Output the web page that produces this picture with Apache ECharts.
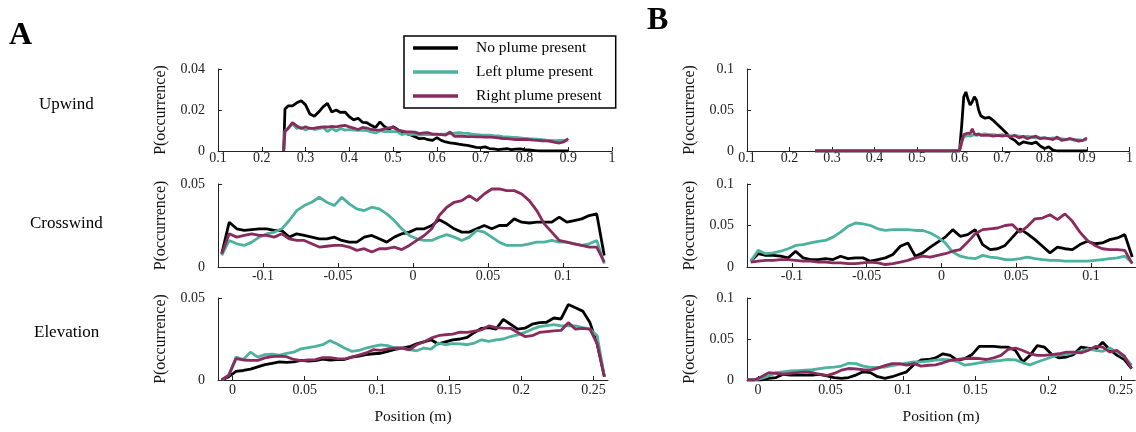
<!DOCTYPE html>
<html>
<head>
<meta charset="utf-8">
<title>Plume position occurrence</title>
<style>
  * { margin: 0; padding: 0; }
  body { background: #fff; }
  #chart { width: 1136px; height: 432px; }
</style>
</head>
<body>
<div id="chart"></div>
<script src="https://cdn.jsdelivr.net/npm/echarts@6/dist/echarts.min.js"></script>
<script>
// ---- data ----
var seriesNames = ['No plume present', 'Left plume present', 'Right plume present'];

var upTicks = [0.1, 0.2, 0.3, 0.4, 0.5, 0.6, 0.7, 0.8, 0.9, 1];
var crossTicks = [-0.1, -0.05, 0, 0.05, 0.1];
var elevTicks = [0, 0.05, 0.1, 0.15, 0.2, 0.25];

// Upwind, panel A
var upA_x = [0.25, 0.253, 0.26, 0.27, 0.28, 0.29, 0.30, 0.31, 0.32, 0.33, 0.34, 0.35, 0.36, 0.37, 0.38, 0.39,
  0.40, 0.41, 0.42, 0.43, 0.44, 0.45, 0.46, 0.47, 0.48, 0.49, 0.50, 0.51, 0.52, 0.53, 0.54, 0.55, 0.56, 0.57,
  0.58, 0.59, 0.60, 0.61, 0.62, 0.63, 0.64, 0.65, 0.66, 0.67, 0.68, 0.69, 0.70, 0.71, 0.72, 0.73, 0.74, 0.75,
  0.76, 0.77, 0.78, 0.79, 0.80, 0.81, 0.82, 0.83, 0.84, 0.85, 0.86, 0.87, 0.88, 0.89, 0.90];
var upA_none = [0, 0.0205, 0.022, 0.022, 0.0235, 0.0245, 0.0225, 0.018, 0.017, 0.019, 0.0215, 0.0232, 0.019, 0.020,
  0.0188, 0.019, 0.0167, 0.0152, 0.016, 0.014, 0.0138, 0.0125, 0.0115, 0.0142, 0.012, 0.0106, 0.0118, 0.0105,
  0.0092, 0.0085, 0.0078, 0.007, 0.006, 0.0062, 0.0055, 0.0052, 0.0065, 0.0052, 0.0044, 0.004, 0.0037, 0.0033,
  0.003, 0.0027, 0.0023, 0.0018, 0.0016, 0.002, 0.0012, 0.001, 0.0007, 0.0009, 0.0011, 0.0007, 0.0009, 0.001,
  0.0007, 0.0005, 0.0003, 0.0001, 0, 0, 0, 0, 0, 0, 0];
var upA_left = [0, 0.0098, 0.011, 0.0132, 0.011, 0.0115, 0.0102, 0.0112, 0.0105, 0.0108, 0.0115, 0.0095, 0.011,
  0.0098, 0.011, 0.0102, 0.0104, 0.0102, 0.0101, 0.0102, 0.01, 0.0093, 0.0088, 0.0099, 0.0094, 0.0096, 0.0095,
  0.0094, 0.008, 0.0086, 0.008, 0.0082, 0.0077, 0.008, 0.0081, 0.008, 0.008, 0.0082, 0.0083, 0.0085, 0.0087,
  0.0089, 0.0087, 0.0086, 0.0082, 0.008, 0.0078, 0.0077, 0.0077, 0.0075, 0.0074, 0.007, 0.0069, 0.0067, 0.0066,
  0.0064, 0.0062, 0.006, 0.0059, 0.0058, 0.0056, 0.0053, 0.0052, 0.0051, 0.0052, 0.0052, 0.0053];
var upA_right = [0, 0.0095, 0.011, 0.0138, 0.0122, 0.011, 0.0118, 0.011, 0.0112, 0.0115, 0.0118, 0.0117, 0.012,
  0.0118, 0.0122, 0.0125, 0.0118, 0.0112, 0.0105, 0.0115, 0.0112, 0.0105, 0.0103, 0.0102, 0.0108, 0.0113, 0.0115,
  0.0102, 0.0098, 0.0093, 0.0093, 0.0092, 0.0085, 0.0088, 0.0089, 0.0082, 0.0082, 0.008, 0.0077, 0.0093, 0.0072,
  0.0073, 0.0072, 0.007, 0.007, 0.0069, 0.0069, 0.0068, 0.0068, 0.0066, 0.0064, 0.0061, 0.006, 0.0058, 0.0056,
  0.0057, 0.0056, 0.0055, 0.0053, 0.0052, 0.005, 0.0049, 0.0047, 0.0042, 0.0039, 0.0044, 0.006];

// Upwind, panel B
var upB_x = [0.26, 0.30, 0.40, 0.50, 0.60, 0.605, 0.61, 0.615, 0.62, 0.625, 0.63, 0.635, 0.64, 0.645, 0.65,
  0.66, 0.67, 0.68, 0.69, 0.70, 0.71, 0.72, 0.73, 0.74, 0.75, 0.76, 0.77, 0.78, 0.79, 0.80, 0.81, 0.82, 0.83,
  0.84, 0.85, 0.86, 0.87, 0.88, 0.89, 0.90];
var upB_none = [0, 0, 0, 0, 0, 0.03, 0.066, 0.072, 0.063, 0.056, 0.06, 0.066, 0.062, 0.05, 0.043,
  0.04, 0.041, 0.037, 0.032, 0.027, 0.022, 0.016, 0.013, 0.008, 0.011, 0.01, 0.009, 0.011, 0.006, 0.003, 0.005,
  0.001, 0, 0, 0, 0, 0, 0, 0, 0];
var upB_left = [0, 0, 0, 0, 0, 0.012, 0.017, 0.018, 0.019, 0.018, 0.019, 0.02, 0.019, 0.02, 0.02,
  0.021, 0.02, 0.02, 0.019, 0.02, 0.019, 0.018, 0.019, 0.018, 0.017, 0.018, 0.017, 0.016, 0.016, 0.016, 0.015,
  0.016, 0.015, 0.015, 0.014, 0.015, 0.013, 0.014, 0.013, 0.014];
var upB_right = [0, 0, 0, 0, 0, 0.01, 0.02, 0.021, 0.022, 0.021, 0.027, 0.021, 0.02, 0.021, 0.019,
  0.019, 0.019, 0.018, 0.019, 0.018, 0.019, 0.017, 0.019, 0.016, 0.018, 0.015, 0.017, 0.018, 0.015, 0.016, 0.015,
  0.014, 0.017, 0.013, 0.014, 0.015, 0.014, 0.012, 0.013, 0.016];

// Crosswind (bins shared by A and B)
var cross_x = [-0.1275, -0.1225, -0.1175, -0.1125, -0.1075, -0.1025, -0.0975, -0.0925, -0.0875, -0.0825,
  -0.0775, -0.0725, -0.0675, -0.0625, -0.0575, -0.0525, -0.0475, -0.0425, -0.0375, -0.0325, -0.0275, -0.0225,
  -0.0175, -0.0125, -0.0075, -0.0025, 0.0025, 0.0075, 0.0125, 0.0175, 0.0225, 0.0275, 0.0325, 0.0375, 0.0425,
  0.0475, 0.0525, 0.0575, 0.0625, 0.0675, 0.0725, 0.0775, 0.0825, 0.0875, 0.0925, 0.0975, 0.1025, 0.1075,
  0.1125, 0.1175, 0.1225, 0.1275];
var crossA_none = [0.008, 0.027, 0.023, 0.022, 0.0225, 0.023, 0.023, 0.022, 0.022, 0.018, 0.02, 0.019, 0.018,
  0.017, 0.017, 0.018, 0.016, 0.015, 0.015, 0.018, 0.019, 0.017, 0.015, 0.018, 0.02, 0.021, 0.023, 0.023, 0.025,
  0.0285, 0.026, 0.023, 0.021, 0.021, 0.023, 0.025, 0.023, 0.025, 0.025, 0.029, 0.027, 0.0265, 0.027, 0.027,
  0.027, 0.03, 0.027, 0.028, 0.029, 0.031, 0.032, 0.007];
var crossA_left = [0.007, 0.016, 0.014, 0.013, 0.015, 0.018, 0.02, 0.021, 0.023, 0.028, 0.034, 0.037, 0.039,
  0.042, 0.039, 0.037, 0.042, 0.038, 0.035, 0.034, 0.036, 0.035, 0.032, 0.028, 0.023, 0.019, 0.017, 0.016, 0.016,
  0.018, 0.0195, 0.018, 0.016, 0.018, 0.022, 0.021, 0.018, 0.015, 0.013, 0.013, 0.013, 0.014, 0.015, 0.015,
  0.016, 0.015, 0.015, 0.014, 0.013, 0.014, 0.016, 0.002];
var crossA_right = [0.008, 0.02, 0.018, 0.019, 0.02, 0.019, 0.019, 0.018, 0.02, 0.017, 0.016, 0.016, 0.014,
  0.012, 0.0125, 0.013, 0.013, 0.012, 0.01, 0.011, 0.009, 0.011, 0.011, 0.012, 0.0105, 0.013, 0.016, 0.019,
  0.023, 0.031, 0.036, 0.039, 0.04, 0.043, 0.04, 0.044, 0.047, 0.047, 0.046, 0.046, 0.044, 0.04, 0.034, 0.026,
  0.021, 0.016, 0.015, 0.014, 0.013, 0.012, 0.012, 0.003];
var crossB_none = [0.007, 0.016, 0.014, 0.014, 0.013, 0.011, 0.019, 0.011, 0.009, 0.009, 0.01, 0.009, 0.013,
  0.01, 0.011, 0.011, 0.007, 0.009, 0.011, 0.015, 0.025, 0.029, 0.013, 0.017, 0.024, 0.03, 0.036, 0.045, 0.037,
  0.039, 0.045, 0.027, 0.021, 0.022, 0.026, 0.036, 0.046, 0.04, 0.033, 0.025, 0.017, 0.024, 0.022, 0.021, 0.027,
  0.031, 0.028, 0.029, 0.033, 0.035, 0.039, 0.012];
var crossB_left = [0.007, 0.02, 0.016, 0.017, 0.019, 0.022, 0.026, 0.027, 0.029, 0.031, 0.032, 0.036, 0.042,
  0.049, 0.053, 0.052, 0.05, 0.046, 0.044, 0.045, 0.045, 0.045, 0.044, 0.044, 0.041, 0.036, 0.029, 0.018, 0.013,
  0.011, 0.01, 0.014, 0.012, 0.011, 0.009, 0.009, 0.01, 0.012, 0.01, 0.009, 0.008, 0.008, 0.007, 0.007, 0.007,
  0.007, 0.008, 0.009, 0.01, 0.011, 0.013, 0.005];
var crossB_right = [0.006, 0.007, 0.008, 0.008, 0.009, 0.009, 0.008, 0.007, 0.007, 0.006, 0.006, 0.005, 0.005,
  0.004, 0.004, 0.005, 0.006, 0.005, 0.003, 0.004, 0.006, 0.008, 0.011, 0.013, 0.012, 0.014, 0.016, 0.019, 0.021,
  0.03, 0.04, 0.045, 0.046, 0.047, 0.05, 0.051, 0.042, 0.049, 0.058, 0.059, 0.063, 0.057, 0.064, 0.055, 0.042,
  0.032, 0.026, 0.022, 0.021, 0.021, 0.02, 0.004];

// Elevation (bins shared by A and B)
var elev_x = [-0.0075, -0.0025, 0.0025, 0.0075, 0.0125, 0.0175, 0.0225, 0.0275, 0.0325, 0.0375, 0.0425, 0.0475,
  0.0525, 0.0575, 0.0625, 0.0675, 0.0725, 0.0775, 0.0825, 0.0875, 0.0925, 0.0975, 0.1025, 0.1075, 0.1125, 0.1175,
  0.1225, 0.1275, 0.1325, 0.1375, 0.1425, 0.1475, 0.1525, 0.1575, 0.1625, 0.1675, 0.1725, 0.1775, 0.1825, 0.1875,
  0.1925, 0.1975, 0.2025, 0.2075, 0.2125, 0.2175, 0.2225, 0.2275, 0.2325, 0.2375, 0.2425, 0.2475, 0.2525, 0.2575];
var elevA_none = [0, 0.002, 0.0052, 0.0058, 0.0066, 0.008, 0.0094, 0.0102, 0.011, 0.0108, 0.011, 0.012, 0.0115,
  0.0118, 0.0127, 0.0122, 0.0124, 0.0125, 0.0139, 0.0145, 0.0155, 0.016, 0.0163, 0.0175, 0.0186, 0.0195, 0.0203,
  0.022, 0.0233, 0.0245, 0.022, 0.0232, 0.0245, 0.025, 0.026, 0.029, 0.0315, 0.032, 0.031, 0.037, 0.034, 0.031,
  0.0316, 0.034, 0.035, 0.0352, 0.0378, 0.0372, 0.046, 0.044, 0.042, 0.035, 0.022, 0.002];
var elevA_left = [0, 0.003, 0.014, 0.0125, 0.017, 0.014, 0.0155, 0.0157, 0.0152, 0.0163, 0.017, 0.019, 0.0198,
  0.0205, 0.0215, 0.024, 0.022, 0.0195, 0.0175, 0.018, 0.0195, 0.0205, 0.0214, 0.021, 0.0195, 0.0195, 0.0185,
  0.0178, 0.0195, 0.0188, 0.0225, 0.0215, 0.0222, 0.022, 0.0215, 0.0225, 0.0245, 0.0235, 0.0245, 0.025, 0.0265,
  0.0275, 0.029, 0.031, 0.0325, 0.0332, 0.0337, 0.033, 0.0332, 0.033, 0.032, 0.031, 0.027, 0.002];
var elevA_right = [0, 0.003, 0.013, 0.0122, 0.012, 0.012, 0.0135, 0.0143, 0.0145, 0.0142, 0.0125, 0.0118, 0.0122,
  0.0124, 0.0137, 0.0136, 0.013, 0.0128, 0.014, 0.0152, 0.0165, 0.0185, 0.018, 0.019, 0.0195, 0.0194, 0.0184,
  0.0215, 0.0232, 0.0255, 0.027, 0.0276, 0.028, 0.0292, 0.029, 0.0298, 0.0306, 0.033, 0.032, 0.0316, 0.0315,
  0.029, 0.0265, 0.027, 0.029, 0.0295, 0.03, 0.0302, 0.035, 0.031, 0.0315, 0.031, 0.022, 0.002];
var elevB_none = [0, 0, 0, 0.002, 0.003, 0.007, 0.006, 0.006, 0.006, 0.006, 0.007, 0.005, 0.003, 0.002, 0.003,
  0.006, 0.01, 0.009, 0.004, 0.002, 0.004, 0.007, 0.01, 0.019, 0.0245, 0.025, 0.027, 0.032, 0.03, 0.024, 0.026,
  0.031, 0.041, 0.041, 0.041, 0.04, 0.04, 0.036, 0.022, 0.03, 0.042, 0.04, 0.031, 0.027, 0.028, 0.031, 0.04,
  0.039, 0.037, 0.046, 0.037, 0.03, 0.025, 0.014];
var elevB_left = [0, 0, 0.002, 0.005, 0.009, 0.01, 0.011, 0.0115, 0.012, 0.0125, 0.014, 0.0152, 0.0158, 0.017,
  0.0205, 0.02, 0.017, 0.0155, 0.0155, 0.0158, 0.0175, 0.019, 0.0205, 0.022, 0.022, 0.023, 0.0242, 0.025, 0.0245,
  0.0225, 0.018, 0.0195, 0.021, 0.022, 0.023, 0.0238, 0.025, 0.0245, 0.021, 0.0185, 0.022, 0.025, 0.028, 0.031,
  0.031, 0.033, 0.035, 0.038, 0.036, 0.035, 0.039, 0.034, 0.028, 0.018];
var elevB_right = [0, 0, 0.004, 0.009, 0.008, 0.007, 0.008, 0.009, 0.01, 0.009, 0.007, 0.0055, 0.008, 0.012, 0.014,
  0.0135, 0.0125, 0.012, 0.0145, 0.0175, 0.02, 0.02, 0.018, 0.02, 0.017, 0.018, 0.0185, 0.021, 0.024, 0.025, 0.026,
  0.0265, 0.0262, 0.025, 0.027, 0.03, 0.0375, 0.039, 0.036, 0.032, 0.03, 0.03, 0.031, 0.032, 0.034, 0.034, 0.033,
  0.036, 0.041, 0.04, 0.034, 0.036, 0.029, 0.014];

// ---- layout ----
var serif = '"Liberation Serif", "Times New Roman", serif';
var lineColors = ['#000000', '#4cb29d', '#8a2b5e'];

var panels = [
  { box: [218, 69, 394, 82], x: [0.1, 1], xt: upTicks, y: [0, 0.04, 0.02], lm: 0,
    xs: upA_x, ys: [upA_none, upA_left, upA_right] },
  { box: [218, 184, 390, 83], x: [-0.13, 0.13], xt: crossTicks, y: [0, 0.05, 0.05], lm: 2,
    xs: cross_x, ys: [crossA_none, crossA_left, crossA_right] },
  { box: [218, 298, 390, 82], x: [-0.01, 0.26], xt: elevTicks, y: [0, 0.05, 0.05], lm: 3,
    xs: elev_x, ys: [elevA_none, elevA_left, elevA_right], xname: true },
  { box: [747, 69, 388, 82], x: [0.1, 1], xt: upTicks, y: [0, 0.1, 0.05], lm: 0,
    xs: upB_x, ys: [upB_none, upB_left, upB_right] },
  { box: [747, 184, 389, 83], x: [-0.13, 0.13], xt: crossTicks, y: [0, 0.1, 0.05], lm: 2,
    xs: cross_x, ys: [crossB_none, crossB_left, crossB_right] },
  { box: [747, 298, 389, 82], x: [-0.0075, 0.26], xt: elevTicks, y: [0, 0.1, 0.05], lm: 3,
    xs: elev_x, ys: [elevB_none, elevB_left, elevB_right], xname: true }
];

function pairs(xs, ys) {
  var out = [];
  for (var i = 0; i < Math.min(xs.length, ys.length); i++) out.push([xs[i], ys[i]]);
  return out;
}

var axisLine = { show: true, onZero: false, lineStyle: { color: '#222', width: 1 } };
var axisTick = { show: true, inside: true, length: 4, lineStyle: { color: '#222', width: 1 } };

var grids = [], xAxes = [], yAxes = [], series = [];
panels.forEach(function (p, i) {
  grids.push({ left: p.box[0], top: p.box[1], width: p.box[2], height: p.box[3] });
  xAxes.push({
    type: 'value', gridIndex: i, min: p.x[0], max: p.x[1],
    axisLine: axisLine,
    axisTick: Object.assign({ customValues: p.xt }, axisTick),
    axisLabel: { customValues: p.xt, margin: p.lm, color: '#222', fontFamily: serif, fontSize: 14 },
    splitLine: { show: false },
    name: p.xname ? 'Position (m)' : '', nameLocation: 'middle', nameGap: 29,
    nameTextStyle: { fontFamily: serif, fontSize: 15.5, color: '#111' }
  });
  yAxes.push({
    type: 'value', gridIndex: i, min: p.y[0], max: p.y[1], interval: p.y[2],
    axisLine: axisLine,
    axisTick: axisTick,
    axisLabel: { margin: 13, color: '#222', fontFamily: serif, fontSize: 14 },
    splitLine: { show: false },
    name: 'P(occurrence)', nameLocation: 'middle', nameRotate: 90, nameGap: 49,
    nameTextStyle: { fontFamily: serif, fontSize: 16, color: '#111' }
  });
  p.ys.forEach(function (ys, k) {
    series.push({
      type: 'line', name: seriesNames[k], xAxisIndex: i, yAxisIndex: i,
      data: pairs(p.xs, ys), showSymbol: false, symbol: 'none',
      lineStyle: { color: lineColors[k], width: 2.8 },
      itemStyle: { color: lineColors[k] },
      emphasis: { disabled: true }
    });
  });
});

var chart = echarts.init(document.getElementById('chart'), null, { renderer: 'canvas' });
chart.setOption({
  animation: false,
  backgroundColor: '#fff',
  grid: grids,
  xAxis: xAxes,
  yAxis: yAxes,
  series: series,
  legend: {
    data: seriesNames, selectedMode: false, orient: 'vertical',
    left: 404, top: 36, icon: 'rect', itemWidth: 45, itemHeight: 3.5, itemGap: 8,
    padding: [4, 14, 4, 9], borderColor: '#000', borderWidth: 1.5, backgroundColor: '#fff',
    textStyle: { fontFamily: serif, fontSize: 15.5, color: '#000', lineHeight: 16, padding: [0, 0, 0, 13] }
  },
  graphic: [
    { type: 'text', left: 9, top: 20, style: { text: 'A', fontFamily: serif, fontSize: 32, fontWeight: 'bold', fill: '#000' } },
    { type: 'text', left: 647, top: 5, style: { text: 'B', fontFamily: serif, fontSize: 32, fontWeight: 'bold', fill: '#000' } },
    { type: 'text', left: 39, top: 96, style: { text: 'Upwind', fontFamily: serif, fontSize: 17, fill: '#000' } },
    { type: 'text', left: 30, top: 215, style: { text: 'Crosswind', fontFamily: serif, fontSize: 17, fill: '#000' } },
    { type: 'text', left: 34, top: 324, style: { text: 'Elevation', fontFamily: serif, fontSize: 17, fill: '#000' } }
  ]
});
window.addEventListener('resize', chart.resize);
</script>
</body>
</html>
